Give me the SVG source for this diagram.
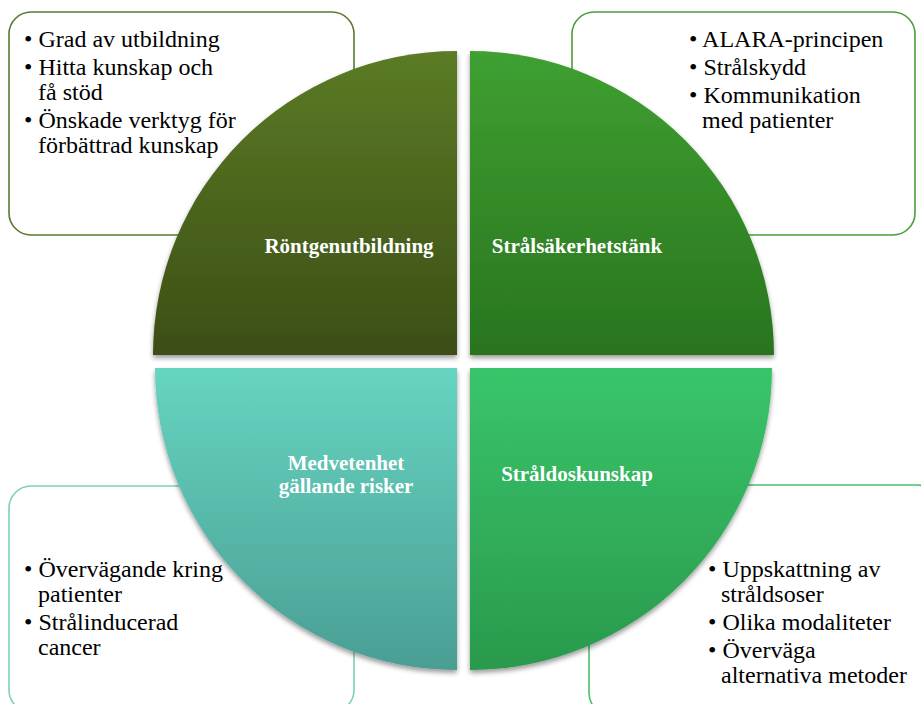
<svg xmlns="http://www.w3.org/2000/svg" width="921" height="704" viewBox="0 0 921 704">
<defs>
<linearGradient id="gTL" x1="0" y1="0" x2="0" y2="1"><stop offset="0" stop-color="#5b7b25"/><stop offset="1" stop-color="#3c4e15"/></linearGradient>
<linearGradient id="gTR" x1="0" y1="0" x2="0" y2="1"><stop offset="0" stop-color="#3fa031"/><stop offset="1" stop-color="#29741f"/></linearGradient>
<linearGradient id="gBL" x1="0" y1="0" x2="0" y2="1"><stop offset="0" stop-color="#66d4c0"/><stop offset="1" stop-color="#4a9e93"/></linearGradient>
<linearGradient id="gBR" x1="0" y1="0" x2="0" y2="1"><stop offset="0" stop-color="#39c56b"/><stop offset="1" stop-color="#2a994c"/></linearGradient>
<filter id="sh" x="-10%" y="-10%" width="120%" height="120%"><feDropShadow dx="0" dy="3" stdDeviation="2.5" flood-color="#000" flood-opacity="0.4"/></filter>
</defs>
<style>
.box{fill:#fff;stroke-width:1.6}
.t{font-family:"Liberation Serif","Times New Roman",serif;font-size:24px;fill:#000}
.lbl{font-family:"Liberation Serif","Times New Roman",serif;font-size:21px;font-weight:bold;fill:#fff;text-anchor:middle}
</style>
<rect width="921" height="704" fill="#fff"/>
<g id="box-tl"><rect class="box" x="9" y="12" width="345" height="223" rx="22" stroke="#5b7a2e"/>
<text class="t"><tspan x="24" y="47">• Grad av utbildning</tspan><tspan x="24" y="75">• Hitta kunskap och</tspan><tspan x="38" y="100">få stöd</tspan><tspan x="24" y="128">• Önskade verktyg för</tspan><tspan x="38" y="153">förbättrad kunskap</tspan></text></g>
<g id="box-tr"><rect class="box" x="572" y="12" width="343" height="223" rx="22" stroke="#4a9d3b"/>
<text class="t"><tspan x="689" y="47">• ALARA-principen</tspan><tspan x="689" y="75">• Strålskydd</tspan><tspan x="689" y="103">• Kommunikation</tspan><tspan x="702" y="128">med patienter</tspan></text></g>
<g id="box-bl"><rect class="box" x="9" y="486" width="345" height="226" rx="22" stroke="#7fcfbe"/>
<text class="t"><tspan x="24" y="577">• Övervägande kring</tspan><tspan x="38" y="602">patienter</tspan><tspan x="24" y="630">• Strålinducerad</tspan><tspan x="38" y="655">cancer</tspan></text></g>
<g id="box-br"><rect class="box" x="589" y="485" width="350" height="230" rx="22" stroke="#4cbf6e"/>
<text class="t"><tspan x="708" y="577">• Uppskattning av</tspan><tspan x="721" y="602">stråldsoser</tspan><tspan x="708" y="630">• Olika modaliteter</tspan><tspan x="708" y="658">• Överväga</tspan><tspan x="721" y="683">alternativa metoder</tspan></text></g>
<g id="q-tl"><path d="M457 355 L153 355 A304 304 0 0 1 457 51 Z" fill="url(#gTL)" filter="url(#sh)"/>
<text class="lbl" x="349" y="253">Röntgenutbildning</text></g>
<g id="q-tr"><path d="M470 355 L470 51 A304 304 0 0 1 774 355 Z" fill="url(#gTR)" filter="url(#sh)"/>
<text class="lbl" x="577" y="253">Strålsäkerhetstänk</text></g>
<g id="q-bl"><path d="M457 368 L457 670 A302 302 0 0 1 155 368 Z" fill="url(#gBL)" filter="url(#sh)"/>
<text class="lbl" x="346" y="470">Medvetenhet</text><text class="lbl" x="346" y="493">gällande risker</text></g>
<g id="q-br"><path d="M470 368 L772 368 A302 302 0 0 1 470 670 Z" fill="url(#gBR)" filter="url(#sh)"/>
<text class="lbl" x="577" y="481">Stråldoskunskap</text></g>
<g id="connectors"/>
</svg>
